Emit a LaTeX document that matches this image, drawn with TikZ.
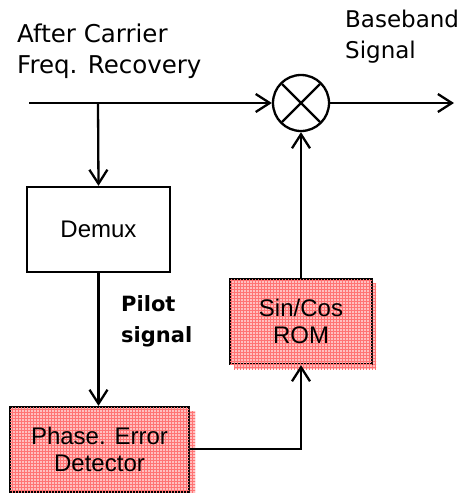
\documentclass[tikz,border=0pt]{standalone}
\usepackage{fontspec}
\setmainfont{Liberation Sans}
\newfontfamily\comicfont{DejaVu Sans}
\usetikzlibrary{arrows.meta,patterns}
\begin{document}
\begin{tikzpicture}[x=1pt,y=-1pt,
  wire/.style={line width=2.3pt},
  arr/.style={wire,-{Straight Barb[length=14pt,width=18pt,line width=2.3pt]}},
  blk/.style={draw,line width=2.3pt,rectangle,minimum height=85pt,inner sep=0pt,
    font=\fontsize{24}{27}\selectfont,align=center},
  pinkfill/.style={fill=red!25,postaction={pattern=grid,pattern color=red!55}},
  pinkblk/.style={blk,pinkfill},
  lbl/.style={font=\comicfont\fontsize{23}{31}\selectfont,align=left,inner sep=0pt},
  mix/.style={draw,circle,line width=2.3pt,minimum size=56pt,inner sep=0pt,
    path picture={\draw[line width=2.3pt]
      (path picture bounding box.south west)++(9pt,9pt) -- ++(38pt,38pt)
      (path picture bounding box.north west)++(9pt,-9pt) -- ++(38pt,-38pt);}}
]
\useasboundingbox (0,0) rectangle (459,493);
\fill[white] (0,0) rectangle (459,493);

% shadows
\fill[pinkfill] (14,411) rectangle (195,497);
\fill[pinkfill] (234,283) rectangle (376,369);

\coordinate (in) at (29,103);
\coordinate (sp) at (98,103);
\coordinate (out) at (454,103);
\node[mix] (mixer) at (301,103) {};
\node[blk,minimum width=143pt] (demux) at (98.5,229.5) {Demux};
\node[pinkblk,minimum width=179pt] (ped) at (99.5,449.5) {Phase. Error\\Detector};
\node[pinkblk,minimum width=142pt] (rom) at (301,321.5) {Sin/Cos\\ROM};
\coordinate (corner) at (301,449);

\draw[arr] (in) -- (mixer.west);
\draw[arr] (mixer.east) -- (out);
\draw[arr] (sp) -- (demux.north);
\draw[arr] (demux.south) -- (demux.south |- ped.north);
\draw[arr] (ped.east |- corner) -- (corner) -- (rom.south);
\draw[arr] (rom.north) -- (mixer.south);

\node[lbl,anchor=north west,font=\comicfont\fontsize{24.5}{31}\selectfont] (t1) at (17,24) {After Carrier\\Freq. Recovery};
\node[lbl,anchor=north west] (t2) at (345,10) {Baseband\\Signal};
\node[lbl,anchor=north west,font=\comicfont\bfseries\fontsize{21}{31}\selectfont] (t3) at (121,295) {Pilot\\signal};
\end{tikzpicture}
\end{document}
